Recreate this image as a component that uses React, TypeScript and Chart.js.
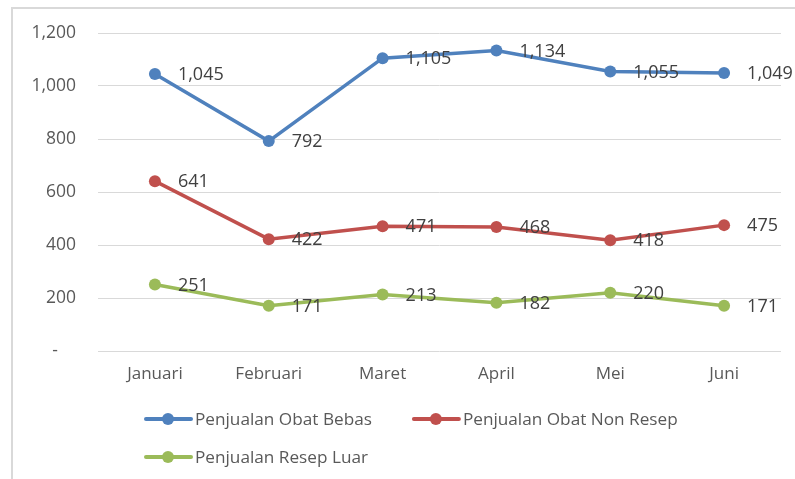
import React, { useEffect, useRef } from "react";
import { Chart, registerables } from "chart.js";

Chart.register(...registerables);

const months = ["Januari", "Februari", "Maret", "April", "Mei", "Juni"];
const obatBebas = [1045, 792, 1105, 1134, 1055, 1049];
const obatNonResep = [641, 422, 471, 468, 418, 475];
const resepLuar = [251, 171, 213, 182, 220, 171];
const seriesNames = ["Penjualan Obat Bebas", "Penjualan Obat Non Resep", "Penjualan Resep Luar"];
const seriesColors = ["#4F81BD", "#C0504D", "#9BBB59"];
const yMin = 0;
const yMax = 1200;
const yStep = 200;

const FONT = "'Open Sans', 'Noto Sans', sans-serif";
const TEXT = "#595959";

const fmt = (v: number) => v.toLocaleString("en-US");

const dataLabelPlugin = {
  id: "dataLabels",
  afterDatasetsDraw(chart: any) {
    const ctx = chart.ctx;
    ctx.save();
    ctx.font = `18px ${FONT}`;
    ctx.fillStyle = "#404040";
    ctx.textAlign = "left";
    ctx.textBaseline = "middle";
    chart.data.datasets.forEach((ds: any, i: number) => {
      const meta = chart.getDatasetMeta(i);
      meta.data.forEach((pt: any, j: number) => {
        ctx.fillText(fmt(ds.data[j]), pt.x + 23, pt.y + 1);
      });
    });
    ctx.restore();
  },
};

const legendPlugin = {
  id: "customLegend",
  afterDraw(chart: any) {
    const ctx = chart.ctx;
    const area = chart.chartArea;
    ctx.save();
    ctx.font = `17.2px ${FONT}`;
    ctx.textBaseline = "middle";
    ctx.textAlign = "left";
    const x0 = area.left + 48;
    const rowYs = [chart.height - 60, chart.height - 22];
    let x = x0;
    let row = 0;
    chart.data.datasets.forEach((ds: any) => {
      const tw = ctx.measureText(ds.label).width;
      const w = 49 + tw;
      if (x + w > area.right && x !== x0) {
        row += 1;
        x = x0;
      }
      const y = rowYs[row];
      ctx.strokeStyle = ds.borderColor;
      ctx.lineWidth = 4;
      ctx.lineCap = "round";
      ctx.beginPath();
      ctx.moveTo(x, y);
      ctx.lineTo(x + 45, y);
      ctx.stroke();
      ctx.fillStyle = ds.borderColor;
      ctx.beginPath();
      ctx.arc(x + 22, y, 6, 0, Math.PI * 2);
      ctx.fill();
      ctx.fillStyle = TEXT;
      ctx.fillText(ds.label, x + 49, y + 1);
      x += w + 42;
    });
    ctx.restore();
  },
};

export default function App() {
  const ref = useRef<HTMLCanvasElement>(null);

  useEffect(() => {
    if (!ref.current) return;
    const values = [obatBebas, obatNonResep, resepLuar];
    const chart = new Chart(ref.current, {
      type: "line",
      data: {
        labels: months,
        datasets: values.map((d, i) => ({
          label: seriesNames[i],
          data: d,
          borderColor: seriesColors[i],
          backgroundColor: seriesColors[i],
          borderWidth: 3.5,
          pointRadius: 6,
          pointHoverRadius: 6,
          pointBorderWidth: 0,
          tension: 0,
          fill: false,
        })),
      },
      options: {
        animation: false,
        responsive: false,
        maintainAspectRatio: false,
        layout: { padding: { left: 0, right: 14, top: 33, bottom: 88 } },
        plugins: {
          legend: { display: false },
          tooltip: { enabled: false },
        },
        scales: {
          x: {
            offset: true,
            grid: { display: false, drawTicks: false },
            border: { display: false },
            ticks: { color: TEXT, font: { size: 17, family: FONT }, padding: 13 },
            afterFit(scale: any) {
              scale.height = 40;
            },
          },
          y: {
            min: yMin,
            max: yMax,
            ticks: {
              stepSize: yStep,
              color: TEXT,
              font: { size: 17.5, family: FONT },
              padding: 22,
              callback: (v: any) => (Number(v) === 0 ? "-    " : fmt(Number(v))),
            },
            grid: { color: "#D9D9D9", lineWidth: 1, drawTicks: false },
            border: { display: false },
            afterFit(scale: any) {
              scale.width = 98;
            },
          },
        },
      },
      plugins: [dataLabelPlugin, legendPlugin],
    });
    return () => chart.destroy();
  }, []);

  return (
    <div
      style={{
        position: "fixed",
        left: 0,
        top: 0,
        width: 795,
        height: 479,
        overflow: "hidden",
        background: "#fff",
      }}
    >
      <div
        style={{
          position: "absolute",
          left: 11,
          top: 7,
          width: 800,
          height: 500,
          border: "2px solid #D9D9D9",
          boxSizing: "border-box",
        }}
      />
      <canvas
        ref={ref}
        width={795}
        height={479}
        style={{ position: "absolute", left: 0, top: 0, width: 795, height: 479 }}
      />
    </div>
  );
}
